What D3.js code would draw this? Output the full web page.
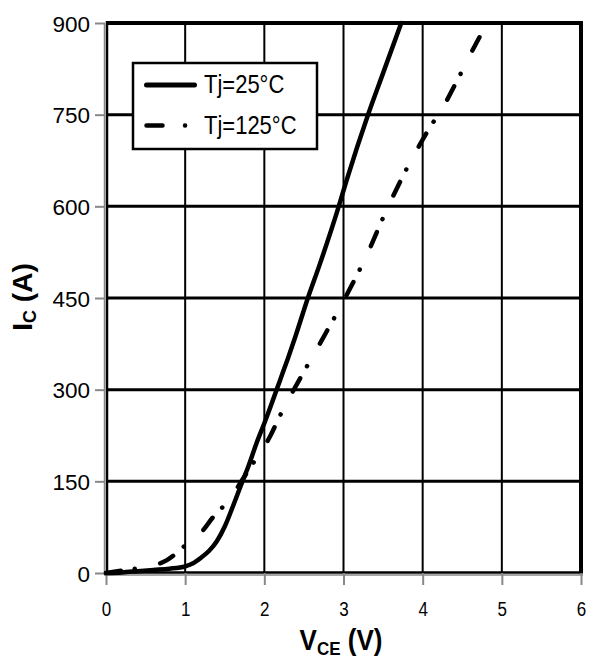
<!DOCTYPE html>
<html>
<head>
<meta charset="utf-8">
<script src="https://cdn.jsdelivr.net/npm/d3@7"></script>
<style>
  body { margin: 0; background: #fff; }
  text { font-family: "Liberation Sans", Arial, sans-serif; fill: #000; }
</style>
</head>
<body>
<svg id="chart"></svg>
<script>
// Output characteristics, Tj = 25°C (solid)
const vce25 = [0, 0.2, 0.4, 0.6, 0.8, 1.0, 1.1, 1.2, 1.3, 1.4, 1.5, 1.6, 1.7, 1.8, 1.9, 2.0, 2.1, 2.2, 2.3, 2.4, 2.55, 2.7, 2.94, 3.04, 3.31, 3.5, 3.73];
const ic25  = [0, 1, 3, 5, 7, 11, 16, 25, 36, 52, 76, 108, 142, 175, 212, 245, 280, 316, 352, 390, 450, 505, 600, 643, 750, 818, 900];

// Tj = 125°C (dash-dot)
const vce125 = [0, 0.2, 0.5, 0.77, 1.0, 1.2, 1.35, 1.57, 1.71, 1.9, 2.07, 2.2, 2.36, 2.7, 3.02, 3.3, 3.52, 3.8, 3.96, 4.12, 4.2, 4.46, 4.62, 4.76];
const ic125  = [0, 4, 10, 21, 45, 66, 91, 122, 150, 188, 223, 258, 297, 375, 450, 522, 587, 662, 700, 735, 750, 812, 853, 887];

const xTicks = [0, 1, 2, 3, 4, 5, 6];
const yTicks = [0, 150, 300, 450, 600, 750, 900];
const legendLabels = ["Tj=25\u00B0C", "Tj=125\u00B0C"];

let margin = {top: 23, right: 8, bottom: 86, left: 106},
  W = 589, H = 659,
  width = W - margin.left - margin.right,
  height = H - margin.top - margin.bottom;

let x = d3.scaleLinear().domain([0, 6]).range([0, width]);
let y = d3.scaleLinear().domain([0, 900]).range([height, 0]);

let svg = d3.select("#chart")
  .attr("width", W)
  .attr("height", H)
  .append("g")
    .attr("transform", "translate(" + margin.left + "," + margin.top + ")");

// grid
svg.selectAll(".hgrid")
  .data(yTicks.filter(v => v > 0))
  .enter().append("line")
    .attr("x1", 0).attr("x2", width)
    .attr("y1", d => y(d)).attr("y2", d => y(d))
    .attr("stroke", "#000")
    .attr("stroke-width", d => d === 900 ? 4 : 3);

svg.selectAll(".vgrid")
  .data(xTicks.filter(v => v > 0))
  .enter().append("line")
    .attr("x1", d => x(d)).attr("x2", d => x(d))
    .attr("y1", -2).attr("y2", height)
    .attr("stroke", "#000")
    .attr("stroke-width", d => d === 6 ? 4 : 2);

// left and bottom frame
svg.append("line").attr("x1", -1.5).attr("x2", -1.5).attr("y1", 0).attr("y2", height + 2)
  .attr("stroke", "#888").attr("stroke-width", 1.5);
svg.append("line").attr("x1", 1).attr("x2", 1).attr("y1", -2).attr("y2", height)
  .attr("stroke", "#000").attr("stroke-width", 2.5);
svg.append("line").attr("x1", 0).attr("x2", width + 2).attr("y1", height - 0.5).attr("y2", height - 0.5)
  .attr("stroke", "#000").attr("stroke-width", 2.5);
svg.append("line").attr("x1", -2).attr("x2", width + 2).attr("y1", height + 2).attr("y2", height + 2)
  .attr("stroke", "#888").attr("stroke-width", 1.5);

// axes
let gx = svg.append("g")
  .attr("transform", "translate(0," + height + ")")
  .call(d3.axisBottom(x).tickValues(xTicks).tickFormat(d3.format("d")).tickSize(12).tickPadding(17));
gx.select(".domain").remove();
gx.selectAll(".tick line").attr("stroke", "#888").attr("stroke-width", 2);
gx.selectAll(".tick text")
  .attr("font-size", 17)
  .attr("dy", 0)
  .attr("y", 43 / 1.18)
  .attr("transform", "scale(1,1.18)");

let gy = svg.append("g")
  .call(d3.axisLeft(y).tickValues(yTicks).tickFormat(d3.format("d")).tickSize(10).tickPadding(6));
gy.select(".domain").remove();
gy.selectAll(".tick line").attr("stroke", "#888").attr("stroke-width", 2).attr("x2", -11).attr("x1", -1);
gy.selectAll(".tick text").attr("font-size", 22.5).attr("dy", "0.36em");

// curves
let line = d3.line()
  .x(d => x(d[0]))
  .y(d => y(d[1]))
  .curve(d3.curveMonotoneX);

svg.append("path")
  .datum(vce25.map((v, i) => [v, ic25[i]]))
  .attr("d", line)
  .attr("fill", "none")
  .attr("stroke", "#000")
  .attr("stroke-width", 4.5)
  .attr("stroke-linecap", "round");

svg.append("path")
  .datum(vce125.map((v, i) => [v, ic125[i]]))
  .attr("d", line)
  .attr("fill", "none")
  .attr("stroke", "#000")
  .attr("stroke-width", 4.5)
  .attr("stroke-linecap", "round")
  .attr("stroke-dasharray", "15,14,0.1,26");

// legend
let lg = svg.append("g").attr("transform", "translate(" + (133 - margin.left) + "," + (63 - margin.top) + ")");
lg.append("rect").attr("width", 184).attr("height", 86)
  .attr("fill", "#fff").attr("stroke", "#000").attr("stroke-width", 2.5);
lg.append("line").attr("x1", 13.5).attr("x2", 61.5).attr("y1", 22).attr("y2", 22)
  .attr("stroke", "#000").attr("stroke-width", 5).attr("stroke-linecap", "round");
lg.append("line").attr("x1", 13.5).attr("x2", 52.2).attr("y1", 62.5).attr("y2", 62.5)
  .attr("stroke", "#000").attr("stroke-width", 4.5).attr("stroke-linecap", "round")
  .attr("stroke-dasharray", "16,22.5,0.1,100");
lg.selectAll(".lt")
  .data(legendLabels)
  .enter().append("text")
    .attr("transform", (d, i) => "translate(71," + (i === 0 ? 30 : 71) + ") scale(1,1.18)")
    .attr("font-size", 22)
    .text(d => d);

// axis titles
let xt = svg.append("text")
  .attr("transform", "translate(" + (341 - margin.left) + "," + (650 - margin.top) + ") scale(1,1.13)")
  .attr("text-anchor", "middle")
  .attr("font-weight", "bold")
  .attr("font-size", 26);
xt.append("tspan").text("V");
xt.append("tspan").attr("font-size", 17).attr("dy", 4).text("CE");
xt.append("tspan").attr("dy", -4).text(" (V)");

let yt = svg.append("text")
  .attr("transform", "translate(" + (32 - margin.left) + "," + (297 - margin.top) + ") rotate(-90)")
  .attr("text-anchor", "middle")
  .attr("font-weight", "bold")
  .attr("font-size", 28);
yt.append("tspan").text("I");
yt.append("tspan").attr("font-size", 18).attr("dy", 4).text("C");
yt.append("tspan").attr("dy", -4).text(" (A)");
</script>
</body>
</html>
